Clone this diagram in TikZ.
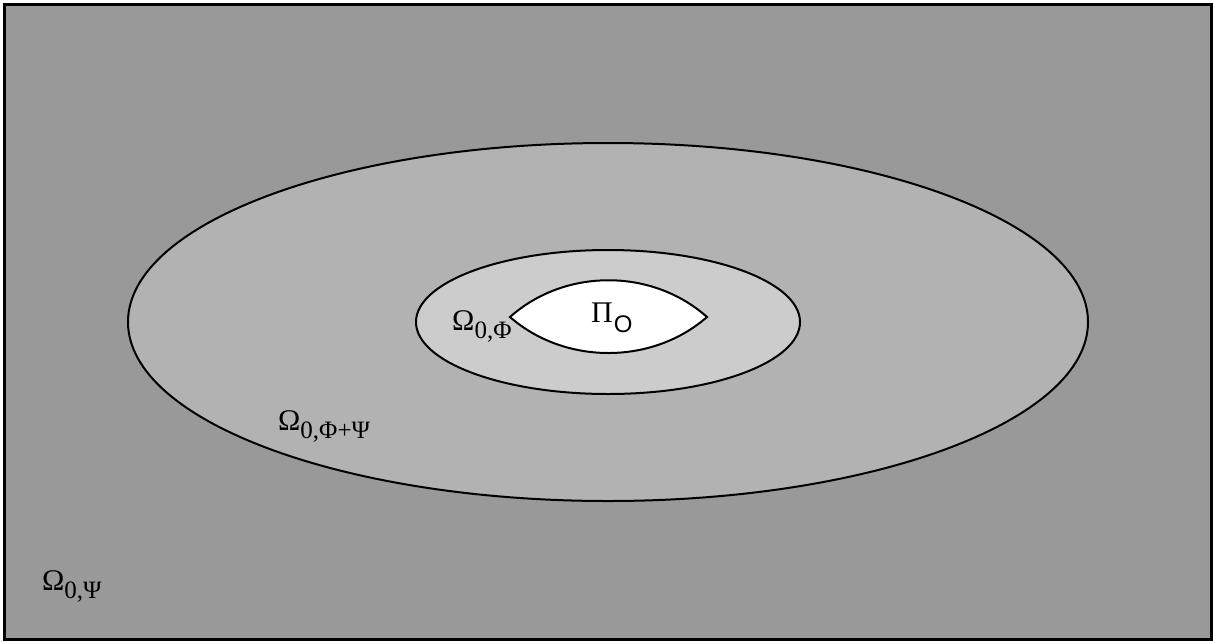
\documentclass[tikz,border=0pt]{standalone}
\usepackage{fontspec}
\setmainfont{Liberation Serif}
\newfontfamily\sansf{Liberation Sans}
\newcommand{\omlbl}[2]{{\fontsize{30}{30}\selectfont #1\raisebox{-8.5pt}{\fontsize{25}{25}\selectfont #2}}}
\definecolor{outerg}{HTML}{999999}
\definecolor{midg}{HTML}{B2B2B2}
\definecolor{innerg}{HTML}{CCCCCC}
\tikzset{region/.style={draw=black, line width=2pt},
  lbl/.style={anchor=base west, inner sep=0pt}}
\begin{document}
\begin{tikzpicture}[x=1pt,y=-1pt]
\useasboundingbox (0,0) rectangle (1213,641);
\node[draw=black, line width=3pt, fill=outerg, minimum width=1207pt, minimum height=635pt, inner sep=0pt, anchor=north west] (frame) at (3,3) {};
\path[region, fill=midg] (608,322) ellipse [x radius=480, y radius=179];
\path[region, fill=innerg] (608,322) ellipse [x radius=192, y radius=72];
\path[region, fill=white] (510,317) .. controls (565,268) and (652,268) .. (707,317)
  .. controls (652,365) and (565,365) .. (510,317) -- cycle;
\node[lbl] (pi) at (591,322) {{\fontsize{30}{30}\selectfont Π\kern1pt\raisebox{-10pt}{\sansf\fontsize{24}{24}\selectfont O}}};
\node[lbl] (phi) at (452,330) {\omlbl{Ω}{0,Φ}};
\node[lbl] (phipsi) at (278,430) {\omlbl{Ω}{0,Φ+Ψ}};
\node[lbl] (psi) at (42,590) {\omlbl{Ω}{0,Ψ}};
\end{tikzpicture}
\end{document}
